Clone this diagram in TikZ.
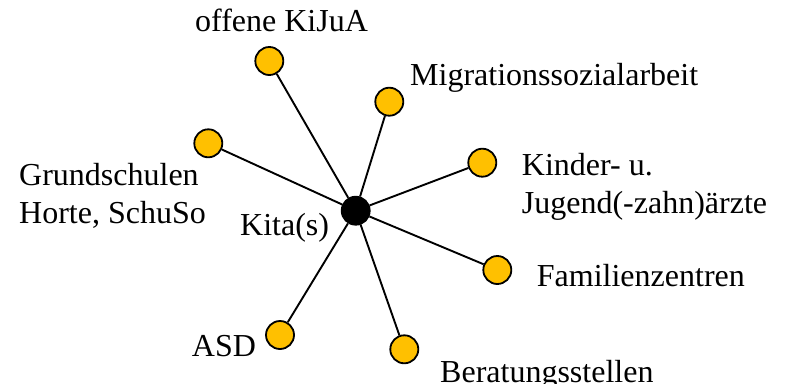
\documentclass[tikz,border=0pt]{standalone}
\usepackage{fontspec}
\setmainfont{Liberation Serif}
\definecolor{netorange}{HTML}{FFC000}
\begin{document}
\begin{tikzpicture}[x=1pt,y=-1pt,
  partner/.style={circle,draw=black,fill=netorange,line width=1.8pt,minimum size=28pt,inner sep=0pt},
  hub/.style={circle,draw=black,fill=black,line width=1.8pt,minimum size=28pt,inner sep=0pt},
  link/.style={line width=1.9pt,black},
  lbl/.style={anchor=base west,inner sep=0pt,font=\fontsize{32}{38}\selectfont,align=left}]
\useasboundingbox (0,0) rectangle (789,383);

% partners around the hub
\node[partner] (kijua)   at (269.3,61)   {};
\node[partner] (migr)    at (389.3,101.7) {};
\node[partner] (grund)   at (208.3,143.3) {};
\node[partner] (arzt)    at (482.3,162.7) {};
\node[partner] (famz)    at (497.3,270)  {};
\node[partner] (asd)     at (280,335)    {};
\node[partner] (berat)   at (404.3,349.3) {};
\node[hub]     (kita)    at (355.7,210.7) {};

% spokes
\foreach \p in {kijua,migr,grund,arzt,famz,asd,berat}
  \draw[link] (kita) -- (\p);

% labels (two-line labels are placed by the baseline of their last line)
\node[lbl] (tkijua) at (195,31.7)  {offene KiJuA};
\node[lbl] (tmigr)  at (410,85)    {Migrationssozialarbeit};
\node[lbl] (tgrund) at (19,223.3)  {Grundschulen\\Horte, SchuSo};
\node[lbl] (tarzt)  at (521.7,213) {Kinder- u.\\Jugend(-zahn)ärzte};
\node[lbl] (tfamz)  at (536.7,286.7) {Familienzentren};
\node[lbl] (tkita)  at (240,235)   {Kita(s)};
\node[lbl] (tasd)   at (191.7,356.7) {ASD};
\node[lbl] (tberat) at (440,382)   {Beratungsstellen};
\end{tikzpicture}
\end{document}
